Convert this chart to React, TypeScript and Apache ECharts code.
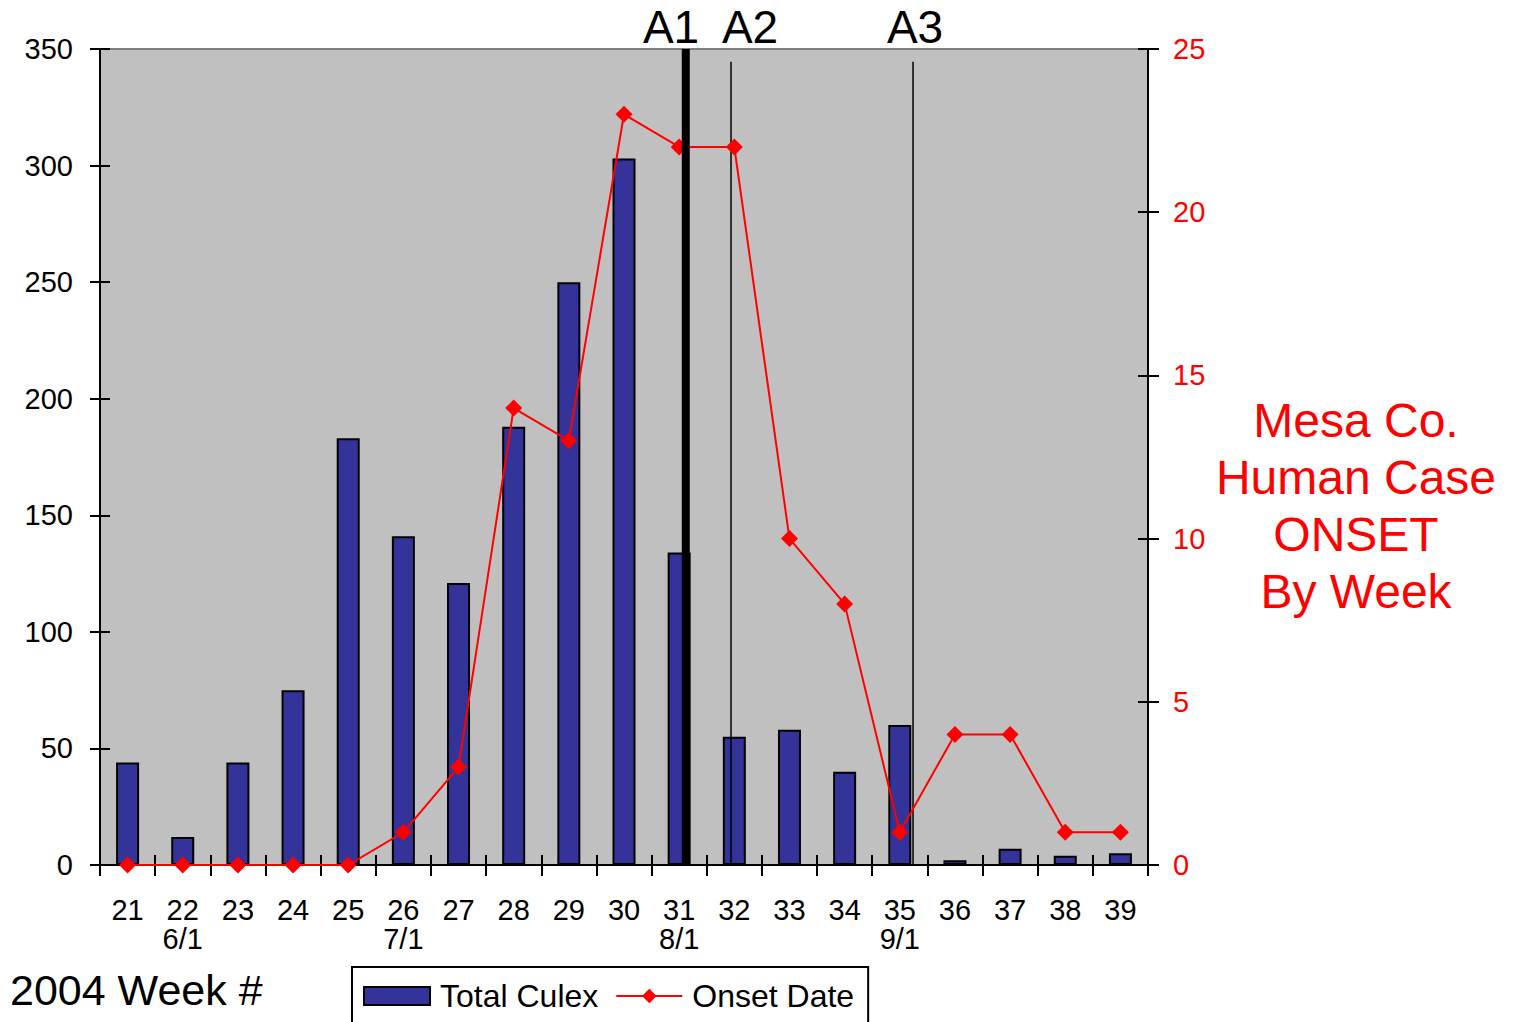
import React, { useEffect, useRef } from "react";
import * as echarts from "echarts";

const weekLabels = [
  "21", "22\n6/1", "23", "24", "25", "26\n7/1", "27", "28", "29", "30",
  "31\n8/1", "32", "33", "34", "35\n9/1", "36", "37", "38", "39",
];
const totalCulex = [44, 12, 44, 75, 183, 141, 121, 188, 250, 303, 134, 55, 58, 40, 60, 2, 7, 4, 5];
const onsetDate = [0, 0, 0, 0, 0, 1, 3, 14, 13, 23, 22, 22, 10, 8, 1, 4, 4, 1, 1];

const leftMin = 0;
const leftMax = 350;
const leftInterval = 50;
const rightMin = 0;
const rightMax = 25;
const rightInterval = 5;

// annotation lines, in category-width units from the left edge of the plot
const annotationNames = ["A1", "A2", "A3"];
const annotationPos = [10.62, 11.44, 14.74];
const annotationTop = [350, 344.5, 344.5];
const annotationWidth = [8, 1.5, 1.5];

const sideTitle = "Mesa Co.\nHuman Case\nONSET\nBy Week";
const xTitle = "2004 Week #";
const pageNumber = "24";

const FONT = "Liberation Sans, Arial, sans-serif";

export default function App() {
  const ref = useRef<HTMLDivElement>(null);

  useEffect(() => {
    if (!ref.current) return;
    const chart = echarts.init(ref.current, null, { renderer: "svg" });

    const annoSeries = annotationNames.map((name, i) => ({
      type: "line",
      name,
      xAxisIndex: 2,
      yAxisIndex: 0,
      data: [
        [annotationPos[i], leftMin],
        [annotationPos[i], annotationTop[i]],
      ],
      symbol: "none",
      silent: true,
      z: i === 0 ? 6 : 3,
      lineStyle: { color: "#000", width: annotationWidth[i] },
    }));

    const option: any = {
      animation: false,
      textStyle: { fontFamily: FONT },
      grid: {
        left: 100,
        right: 365,
        top: 49,
        bottom: 157,
        show: true,
        backgroundColor: "#C0C0C0",
        borderColor: "#808080",
        borderWidth: 2,
      },
      legend: {
        left: 352,
        top: 967,
        data: [{ name: "Total Culex", icon: "rect" }, { name: "Onset Date" }],
        borderColor: "#000",
        borderWidth: 2,
        padding: [13, 14, 24, 11],
        itemWidth: 66,
        itemHeight: 18,
        itemGap: 17,
        textStyle: { fontSize: 32, color: "#000", fontFamily: FONT, padding: [0, 0, 0, 5] },
      },
      xAxis: [
        {
          type: "category",
          data: weekLabels,
          position: "bottom",
          axisLine: { lineStyle: { color: "#000", width: 2 } },
          axisTick: { show: true, length: 11, lineStyle: { color: "#000", width: 2 } },
          axisLabel: { fontSize: 29, color: "#000", lineHeight: 29, margin: 30, interval: 0, fontFamily: FONT },
          splitLine: { show: false },
        },
        {
          type: "category",
          data: weekLabels,
          position: "bottom",
          axisLine: { show: false },
          axisTick: { show: true, inside: true, length: 10, lineStyle: { color: "#000", width: 2 } },
          axisLabel: { show: false },
          splitLine: { show: false },
        },
        {
          type: "value",
          min: 0,
          max: weekLabels.length,
          show: false,
        },
      ],
      yAxis: [
        {
          type: "value",
          position: "left",
          min: leftMin,
          max: leftMax,
          interval: leftInterval,
          axisLine: { show: true, lineStyle: { color: "#000", width: 2 } },
          axisTick: { show: true, length: 10, lineStyle: { color: "#000", width: 2 } },
          axisLabel: { fontSize: 29, color: "#000", margin: 27, fontFamily: FONT },
          splitLine: { show: false },
        },
        {
          type: "value",
          position: "right",
          min: rightMin,
          max: rightMax,
          interval: rightInterval,
          axisLine: { show: true, lineStyle: { color: "#000", width: 2 } },
          axisTick: { show: true, length: 11, lineStyle: { color: "#000", width: 2 } },
          axisLabel: { fontSize: 29, color: "#FF0000", margin: 25, fontFamily: FONT },
          splitLine: { show: false },
        },
        {
          type: "value",
          position: "left",
          min: leftMin,
          max: leftMax,
          interval: leftInterval,
          axisLine: { show: false },
          axisTick: { show: true, inside: true, length: 10, lineStyle: { color: "#000", width: 2 } },
          axisLabel: { show: false },
          splitLine: { show: false },
        },
        {
          type: "value",
          position: "right",
          min: rightMin,
          max: rightMax,
          interval: rightInterval,
          axisLine: { show: false },
          axisTick: { show: true, inside: true, length: 10, lineStyle: { color: "#000", width: 2 } },
          axisLabel: { show: false },
          splitLine: { show: false },
        },
      ],
      series: [
        {
          type: "bar",
          name: "Total Culex",
          xAxisIndex: 0,
          yAxisIndex: 0,
          data: totalCulex,
          barWidth: 23,
          z: 2,
          itemStyle: { color: "#333399", borderColor: "#000", borderWidth: 2 },
        },
        ...annoSeries,
        {
          type: "line",
          name: "Onset Date",
          xAxisIndex: 0,
          yAxisIndex: 1,
          data: onsetDate,
          symbol: "diamond",
          symbolSize: 17,
          z: 5,
          lineStyle: { color: "#FF0000", width: 2 },
          itemStyle: { color: "#FF0000" },
        },
      ],
      graphic: [
        ...annotationNames.map((t, i) => ({
          type: "text",
          x: [671, 750, 915][i],
          y: 27,
          style: {
            text: t,
            fontSize: 46,
            fontFamily: FONT,
            fill: "#000",
            textAlign: "center",
            textVerticalAlign: "middle",
          },
        })),
        {
          type: "text",
          x: 1356,
          y: 506,
          style: {
            text: sideTitle,
            fontSize: 48,
            lineHeight: 57,
            fontFamily: FONT,
            fill: "#FF0000",
            textAlign: "center",
            textVerticalAlign: "middle",
          },
        },
        {
          type: "text",
          x: 10,
          y: 990,
          style: {
            text: xTitle,
            fontSize: 43,
            fontFamily: FONT,
            fill: "#000",
            textAlign: "left",
            textVerticalAlign: "middle",
          },
        },
        {
          type: "text",
          x: 1415,
          y: 1036,
          style: {
            text: pageNumber,
            fontSize: 42,
            fontFamily: FONT,
            fill: "#000",
            textAlign: "left",
            textVerticalAlign: "middle",
          },
        },
      ],
    };

    chart.setOption(option);
    return () => chart.dispose();
  }, []);

  return (
    <div
      ref={ref}
      style={{ position: "fixed", left: 0, top: 0, width: 1513, height: 1022, background: "#fff" }}
    />
  );
}
